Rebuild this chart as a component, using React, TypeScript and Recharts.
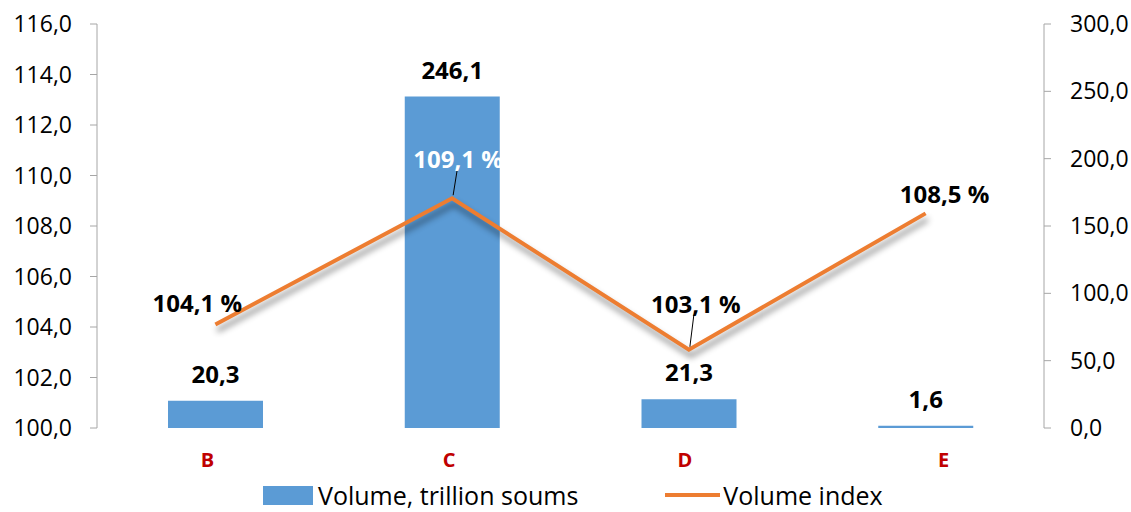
import { ComposedChart, Bar, Line, XAxis, YAxis, LabelList, Legend } from "recharts";

const categories = ["B", "C", "D", "E"];
const volume = [20.3, 246.1, 21.3, 1.6];
const volumeIndex = [104.1, 109.1, 103.1, 108.5];
const leftTicks = [100, 102, 104, 106, 108, 110, 112, 114, 116];
const rightTicks = [0, 50, 100, 150, 200, 250, 300];

const data = categories.map((c, i) => ({ name: c, volume: volume[i], index: volumeIndex[i] }));

const fmt = (v: number) => v.toFixed(1).replace(".", ",");
const FONT = "'Open Sans', sans-serif";

// label placement for the index line, relative to its point
const idxLabelStyle = [
  { dx: -18, dy: -12, fill: "#000", leader: false },
  { dx: 6, dy: -30, fill: "#fff", leader: true },
  { dx: 7, dy: -37, fill: "#000", leader: true },
  { dx: 19, dy: -10, fill: "#000", leader: false },
];
const catLabelDx = [-8, -3, -4, 18];

const IndexLabel = (props: any) => {
  const { x, y, value, index } = props;
  const s = idxLabelStyle[index];
  return (
    <g>
      {s.leader && (
        <line x1={x + 1} y1={y - 3} x2={x + 5} y2={y + s.dy + 2} stroke="#000" strokeWidth={1} />
      )}
      <text
        x={x + s.dx}
        y={y + s.dy}
        fill={s.fill}
        textAnchor="middle"
        fontFamily={FONT}
        fontWeight={700}
        fontSize={24}
      >
        {fmt(value)} %
      </text>
    </g>
  );
};

const BarLabel = (props: any) => {
  const { x, y, width, value } = props;
  return (
    <text
      x={x + width / 2}
      y={y - 18}
      textAnchor="middle"
      fontFamily={FONT}
      fontWeight={700}
      fontSize={24}
      fill="#000"
    >
      {fmt(value)}
    </text>
  );
};

const CatTick = (props: any) => {
  const { x, y, payload, index } = props;
  return (
    <text
      x={x + catLabelDx[index]}
      y={y + 31}
      textAnchor="middle"
      fontFamily={FONT}
      fontWeight={700}
      fontSize={20}
      fill="#c00000"
    >
      {payload.value}
    </text>
  );
};

const renderLegend = () => (
  <div
    style={{
      display: "flex",
      alignItems: "center",
      fontFamily: FONT,
      fontSize: 25,
      color: "#000",
      paddingLeft: 263,
      height: 30,
    }}
  >
    <span style={{ display: "inline-block", width: 50, height: 19, background: "#5b9bd5", marginRight: 5 }} />
    <span style={{ marginRight: 87 }}>Volume, trillion soums</span>
    <span style={{ display: "inline-block", width: 55, height: 4, background: "#ed7d31", marginRight: 3 }} />
    <span>Volume index</span>
  </div>
);

export default function App() {
  return (
    <div style={{ position: "absolute", left: 0, top: 0, background: "#fff" }}>
      <style>{`.idx-line .recharts-line-curve { filter: drop-shadow(2px 6px 3px rgba(0,0,0,0.45)); }`}</style>
      <ComposedChart
        width={1131}
        height={512}
        data={data}
        margin={{ top: 24, right: 0, left: 0, bottom: 0 }}
      >
        <XAxis dataKey="name" axisLine={false} tickLine={false} height={54} tick={CatTick} />
        <YAxis
          yAxisId="left"
          domain={[100, 116]}
          ticks={leftTicks}
          width={97}
          tickFormatter={fmt}
          stroke="#a6a6a6"
          tickSize={7}
          tickMargin={18}
          tick={{ fill: "#000", fontSize: 23, fontFamily: FONT }}
        />
        <YAxis
          yAxisId="right"
          orientation="right"
          domain={[0, 300]}
          ticks={rightTicks}
          width={87}
          tickFormatter={fmt}
          stroke="#a6a6a6"
          tickSize={7}
          tickMargin={19}
          tick={{ fill: "#000", fontSize: 23, fontFamily: FONT }}
        />
        <Legend verticalAlign="bottom" height={30} content={renderLegend} wrapperStyle={{ bottom: 2 }} />
        <Bar
          yAxisId="right"
          dataKey="volume"
          name="Volume, trillion soums"
          fill="#5b9bd5"
          barSize={95}
          isAnimationActive={false}
        >
          <LabelList dataKey="volume" content={BarLabel} />
        </Bar>
        <Line
          yAxisId="left"
          dataKey="index"
          name="Volume index"
          className="idx-line"
          stroke="#ed7d31"
          strokeWidth={4}
          dot={false}
          isAnimationActive={false}
        >
          <LabelList dataKey="index" content={IndexLabel} />
        </Line>
      </ComposedChart>
    </div>
  );
}
